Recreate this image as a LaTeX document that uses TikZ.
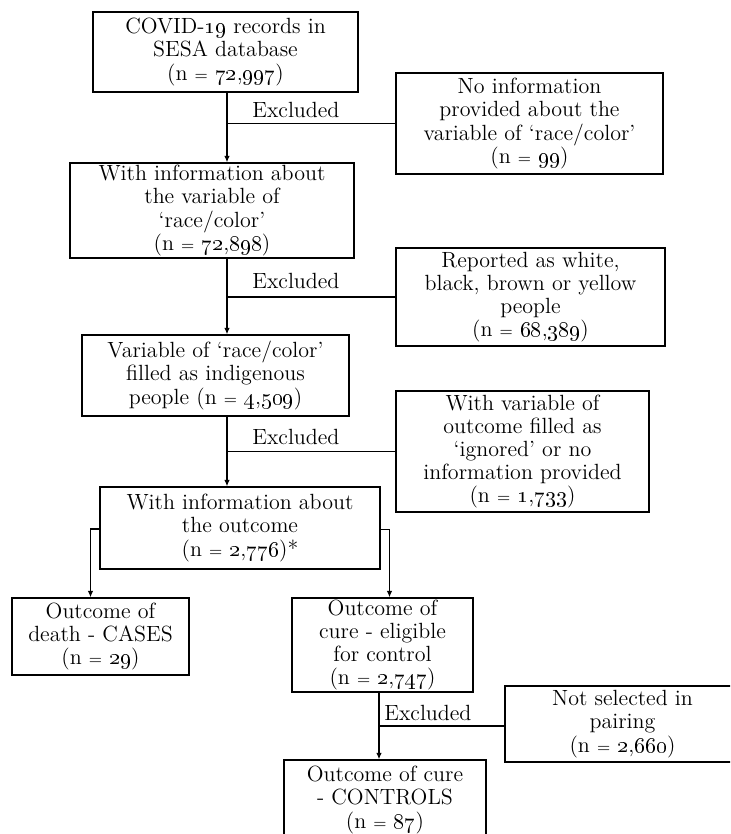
\documentclass[tikz,border=0pt]{standalone}
\usetikzlibrary{arrows.meta,calc}
\newcommand\osn[1]{\oldstylenums{#1}}
\newcommand\eqs{{\fontsize{8}{8}\selectfont =}}
\tikzset{
  box/.style={draw, line width=0.7pt, align=center, inner sep=0pt,
    font=\fontsize{11}{11.6}\selectfont},
  exlabel/.style={anchor=base west, inner sep=0pt, font=\fontsize{11}{11.6}\selectfont},
  conn/.style={line width=0.6pt},
  arr/.style={line width=0.6pt, -{Latex[length=3.2pt,width=2.8pt]}}
}
\begin{document}
\begin{tikzpicture}[x=0.5pt,y=-0.5pt]
\useasboundingbox (0,0) rectangle (730,834);
\clip (0,0) rectangle (730,834);
% main boxes
\node[box, minimum width=132.5pt, minimum height=40pt] (b1) at (225.5,52)
  {COVID-\osn{19} records in\\SESA database\\(n \eqs{} \osn{72},\osn{997})};
\node[box, minimum width=142pt, minimum height=47.5pt] (b2) at (212,210.5)
  {With information about\\the variable of\\‘race/color’\\(n \eqs{} \osn{72},\osn{898})};
\node[box, minimum width=133.5pt, minimum height=40.5pt] (b3) at (215.5,375.5)
  {Variable of ‘race/color’\\filled as indigenous\\people (n \eqs{} \osn{4},\osn{509})};
\node[box, minimum width=140pt, minimum height=41pt] (b4) at (240,528)
  {With information about\\the outcome\\(n \eqs{} \osn{2},\osn{776})*};
% exclusion boxes
\node[box, minimum width=133.5pt, minimum height=50.5pt] (n1) at (529.5,123.5)
  {No information\\provided about the\\variable of ‘race/color’\\(n \eqs{} \osn{99})};
\node[box, minimum width=134.5pt, minimum height=49pt] (n2) at (530.5,297)
  {Reported as white,\\black, brown or yellow\\people\\(n \eqs{} \osn{68},\osn{389})};
\node[box, minimum width=126.5pt, minimum height=60.5pt] (n3) at (522.5,451.5)
  {With variable of\\outcome filled as\\‘ignored’ or no\\information provided\\(n \eqs{} \osn{1},\osn{733})};
% outcome boxes
\node[box, minimum width=88.5pt, minimum height=38.5pt] (d) at (100.5,636.5)
  {Outcome of\\death - CASES\\(n \eqs{} \osn{29})};
\node[box, minimum width=90.5pt, minimum height=47pt] (c) at (382.5,645)
  {Outcome of\\cure - eligible\\for control\\(n \eqs{} \osn{2},\osn{747})};
\node[box, minimum width=117.5pt, minimum height=38pt] (ns) at (622.5,724)
  {Not selected in\\pairing\\(n \eqs{} \osn{2},\osn{660})};
\node[box, minimum width=101pt, minimum height=40pt] (ct) at (385,800)
  {Outcome of cure\\- CONTROLS\\(n \eqs{} \osn{87})};
% guide coordinates
\coordinate (m) at (227,0);
\coordinate (mc) at (379,0);
\coordinate (lb) at (90.5,0);
\coordinate (rb) at (389.5,0);
% main flow
\draw[arr] (b1.south -| m) -- (b2.north -| m);
\draw[arr] (b2.south -| m) -- (b3.north -| m);
\draw[arr] (b3.south -| m) -- (b4.north -| m);
\draw[conn] (m |- n1.west) -- (n1.west);
\draw[conn] (m |- n2.west) -- (n2.west);
\draw[conn] (m |- n3.west) -- (n3.west);
\node[exlabel] (e1) at (252,118) {Excluded};
\node[exlabel] (e2) at (252,288) {Excluded};
\node[exlabel] (e3) at (252,444) {Excluded};
% branches
\draw[arr] ($(b4.west)+(0,1)$) -| (d.north -| lb);
\draw[arr] ($(b4.east)+(0,1.5)$) -| (c.north -| rb);
% cure to controls
\draw[arr] (c.south -| mc) -- (ct.north -| mc);
\draw[conn] ($(mc |- ns.west)+(0,2)$) -- ($(ns.west)+(0,2)$);
\node[exlabel] (e4) at (384,720) {Excluded};
\end{tikzpicture}
\end{document}
